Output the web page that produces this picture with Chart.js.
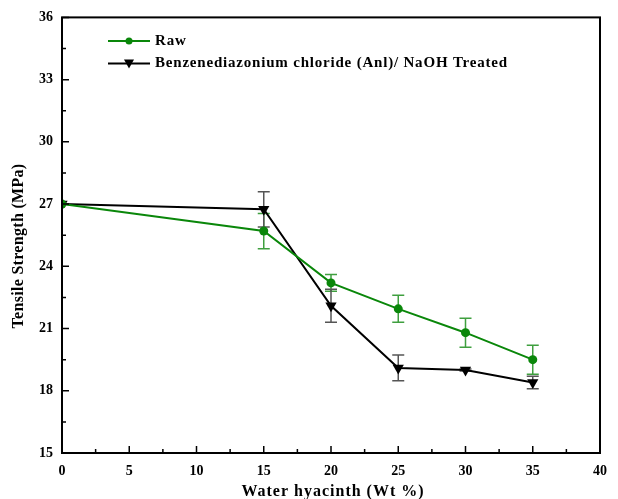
<!DOCTYPE html>
<html lang="en">
<head>
  <meta charset="UTF-8" />
  <title>Tensile Strength vs Water hyacinth</title>
  <script src="https://cdn.jsdelivr.net/npm/chart.js"></script>
  <style>
    body { margin: 0; background: white; }
    #wrap { width: 618px; height: 499px; }
  </style>
</head>
<body>
  <div id="wrap"><canvas id="chart"></canvas></div>
  <script>
    // ------------------ Data ------------------
    const loading = [0, 15, 20, 25, 30, 35];
    const rawValues = [27.0, 25.7, 23.2, 21.95, 20.8, 19.5];
    const rawErrors = [0, 0.85, 0.4, 0.65, 0.7, 0.7];
    const treatedValues = [27.0, 26.75, 22.1, 19.1, 19.0, 18.4];
    const treatedErrors = [0, 0.85, 0.8, 0.62, 0.05, 0.3];
    const seriesLabels = ['Raw', 'Benzenediazonium chloride (Anl)/ NaOH Treated'];
    const xTicks = [0, 5, 10, 15, 20, 25, 30, 35, 40];
    const yTicks = [15, 18, 21, 24, 27, 30, 33, 36];
    const xTitle = 'Water hyacinth (Wt %)';
    const yTitle = 'Tensile Strength (MPa)';

    const serif = '"Liberation Serif", "DejaVu Serif", serif';
    const green = '#0a870a';
    const black = '#000000';

    // error bars, inward ticks, frame, titles and legend
    const decorations = {
      id: 'decorations',
      beforeDatasetsDraw(chart) {
        const ctx = chart.ctx;
        const xs = chart.scales.x, ys = chart.scales.y;
        const errs = [rawErrors, treatedErrors];
        const cols = ['#3f9f3f', '#555555'];
        chart.data.datasets.forEach((ds, i) => {
          ctx.save();
          ctx.strokeStyle = cols[i];
          ctx.lineWidth = 1.5;
          ds.data.forEach((p, j) => {
            const e = errs[i][j];
            if (!e) return;
            const px = xs.getPixelForValue(p.x);
            const top = ys.getPixelForValue(p.y + e);
            const bot = ys.getPixelForValue(p.y - e);
            ctx.beginPath();
            ctx.moveTo(px, top); ctx.lineTo(px, bot);
            ctx.moveTo(px - 6, top); ctx.lineTo(px + 6, top);
            ctx.moveTo(px - 6, bot); ctx.lineTo(px + 6, bot);
            ctx.stroke();
          });
          ctx.restore();
        });
      },
      afterDraw(chart) {
        const ctx = chart.ctx;
        const a = chart.chartArea;
        const xs = chart.scales.x, ys = chart.scales.y;
        ctx.save();
        ctx.strokeStyle = '#000';
        ctx.lineWidth = 2;
        ctx.strokeRect(a.left, a.top, a.right - a.left, a.bottom - a.top);
        ctx.lineWidth = 1.5;
        ctx.beginPath();
        for (let v = 0; v <= 40; v += 2.5) {
          const px = xs.getPixelForValue(v);
          const len = v % 5 === 0 ? 7 : 4;
          ctx.moveTo(px, a.bottom); ctx.lineTo(px, a.bottom - len);
        }
        for (let v = 15; v <= 36; v += 1.5) {
          const py = ys.getPixelForValue(v);
          const len = (v - 15) % 3 === 0 ? 7 : 4;
          ctx.moveTo(a.left, py); ctx.lineTo(a.left + len, py);
        }
        ctx.stroke();

        // axis titles
        ctx.fillStyle = '#000';
        ctx.textAlign = 'center';
        ctx.textBaseline = 'middle';
        ctx.font = 'bold 16px ' + serif;
        ctx.letterSpacing = '1px';
        ctx.fillText(xTitle, (a.left + a.right) / 2 + 2, 492);
        ctx.save();
        ctx.translate(19, 246);
        ctx.rotate(-Math.PI / 2);
        ctx.letterSpacing = '0.3px';
        ctx.fillText(yTitle, 0, 0);
        ctx.restore();

        // legend
        ctx.textAlign = 'left';
        const lx = 108, ly = [a.top + 23.5, a.top + 46];
        chart.data.datasets.forEach((ds, i) => {
          ctx.strokeStyle = ds.borderColor;
          ctx.lineWidth = 2;
          ctx.beginPath();
          ctx.moveTo(lx, ly[i]); ctx.lineTo(lx + 42, ly[i]);
          ctx.stroke();
          ctx.fillStyle = ds.borderColor;
          if (i === 0) {
            ctx.beginPath();
            ctx.arc(lx + 21, ly[i], 3.5, 0, Math.PI * 2);
            ctx.fill();
          } else {
            ctx.beginPath();
            ctx.moveTo(lx + 16, ly[i] - 4);
            ctx.lineTo(lx + 26, ly[i] - 4);
            ctx.lineTo(lx + 21, ly[i] + 5);
            ctx.closePath();
            ctx.fill();
          }
          ctx.fillStyle = '#000';
          ctx.font = 'bold 15px ' + serif;
          ctx.letterSpacing = '0.8px';
          ctx.fillText(ds.label, lx + 47, ly[i]);
        });
        ctx.restore();
      }
    };

    new Chart(document.getElementById('chart'), {
      type: 'line',
      data: {
        datasets: [
          {
            label: seriesLabels[0],
            data: loading.map((x, i) => ({ x: x, y: rawValues[i] })),
            borderColor: green,
            backgroundColor: green,
            borderWidth: 2,
            pointStyle: 'circle',
            pointRadius: 4.5,
            pointBorderWidth: 0
          },
          {
            label: seriesLabels[1],
            data: loading.map((x, i) => ({ x: x, y: treatedValues[i] })),
            borderColor: black,
            backgroundColor: black,
            borderWidth: 2,
            pointStyle: 'triangle',
            pointRotation: 180,
            pointRadius: 6.5,
            pointBorderWidth: 0
          }
        ]
      },
      options: {
        responsive: true,
        maintainAspectRatio: false,
        animation: false,
        layout: { padding: { top: 16, right: 18, left: 0, bottom: 0 } },
        plugins: { legend: { display: false }, tooltip: { enabled: false } },
        scales: {
          x: {
            type: 'linear',
            min: 0, max: 40,
            afterBuildTicks: s => { s.ticks = xTicks.map(v => ({ value: v })); },
            afterFit: s => { s.height = 46; },
            grid: { display: false, drawTicks: false },
            border: { display: false },
            ticks: { color: '#000', padding: 10, font: { family: serif, size: 14, weight: 'bold' } }
          },
          y: {
            min: 15, max: 36,
            afterBuildTicks: s => { s.ticks = yTicks.map(v => ({ value: v })); },
            afterFit: s => { s.width = 62; },
            grid: { display: false, drawTicks: false },
            border: { display: false },
            ticks: { color: '#000', padding: 9, font: { family: serif, size: 14, weight: 'bold' } }
          }
        }
      },
      plugins: [decorations]
    });
  </script>
</body>
</html>
